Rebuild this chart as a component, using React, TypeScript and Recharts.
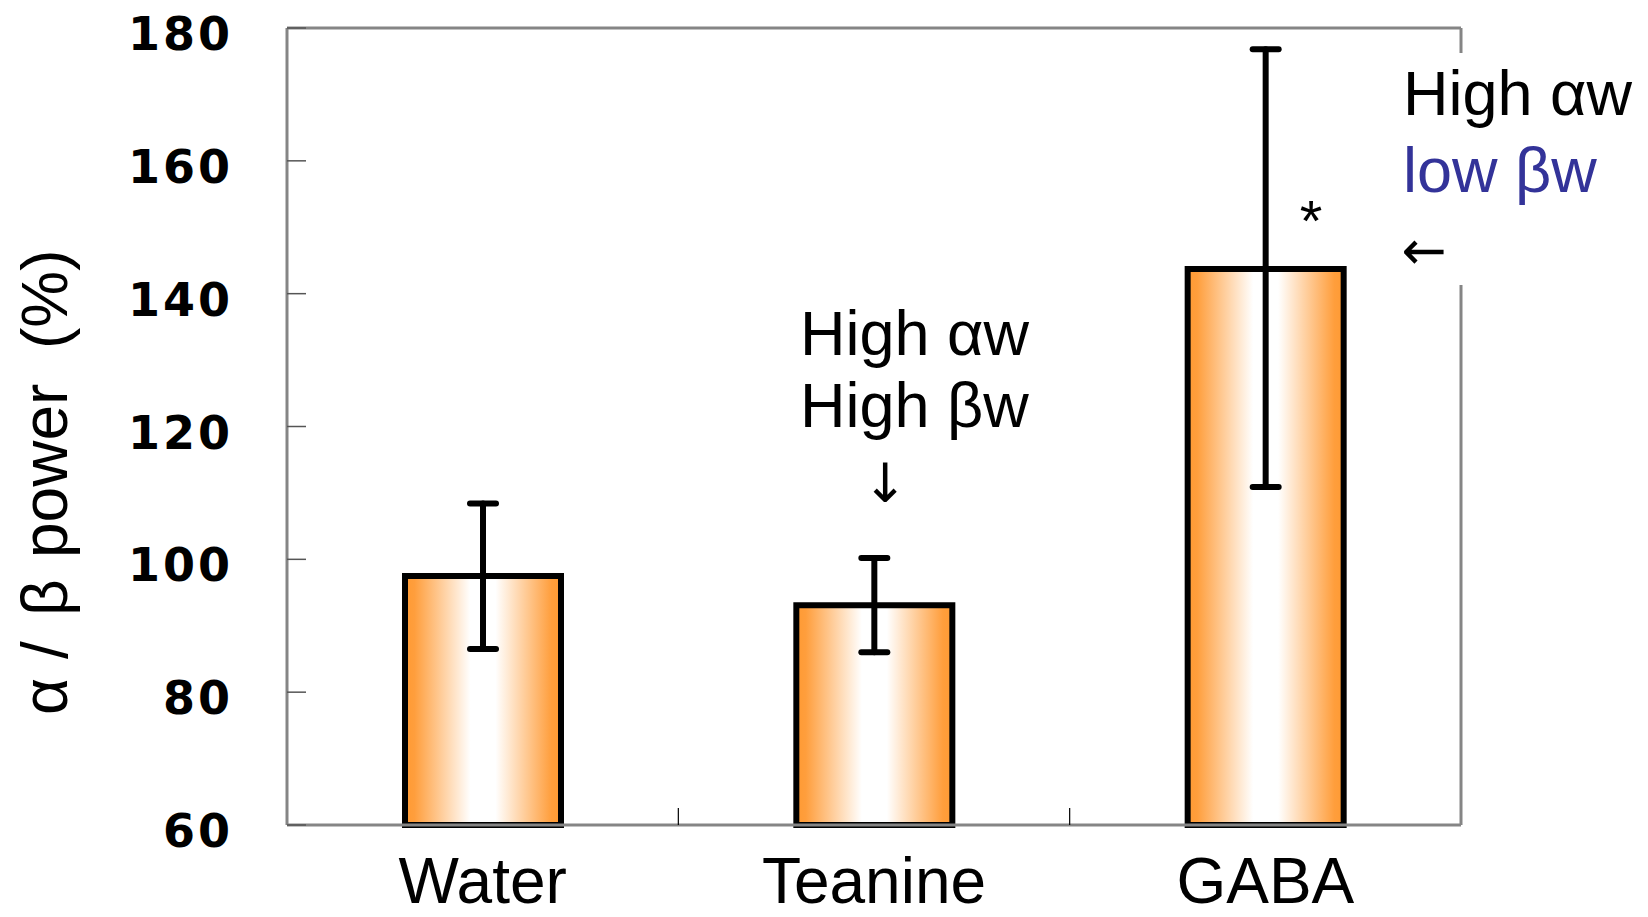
import React from 'react';
import { BarChart, Bar, XAxis, YAxis, ErrorBar } from 'recharts';

// values (% of baseline)
const categories = ['Water', 'Teanine', 'GABA'];
const means = [97.5, 93.1, 143.7];
const lowerBounds = [86.5, 86.0, 110.9];
const upperBounds = [108.4, 100.2, 176.8];
const yTicks = [60, 80, 100, 120, 140, 160, 180];

const data = categories.map((name, i) => ({
  name,
  value: means[i],
  err: [means[i] - lowerBounds[i], upperBounds[i] - means[i]],
}));

const AXIS_GREY = '#858585';

const YTick = (props: any) => {
  const { x, y, payload } = props;
  return (
    <g>
      <line x1={x} x2={x + 19} y1={y} y2={y} stroke="#555" strokeWidth={1.5} />
      <text
        x={x - 54}
        y={y + 22}
        textAnchor="end"
        fontFamily="DejaVu Sans"
        fontWeight="bold"
        fontSize={46}
        letterSpacing={3}
        fill="#000"
      >
        {payload.value}
      </text>
    </g>
  );
};

const XTick = (props: any) => {
  const { x, y, payload, index, visibleTicksCount, width } = props;
  const half = payload.offset || width / visibleTicksCount / 2;
  return (
    <g>
      {index < visibleTicksCount - 1 && (
        <line x1={x + half} x2={x + half} y1={y} y2={y - 17} stroke="#000" strokeWidth={1.2} />
      )}
      <text x={x} y={y + 78} textAnchor="middle" fontFamily="Liberation Sans" fontSize={64} fill="#000">
        {payload.value}
      </text>
    </g>
  );
};

export default function App() {
  return (
    <div style={{ position: 'absolute', left: 0, top: 0, width: 1648, height: 917, background: '#fff' }}>
      <BarChart width={1648} height={917} data={data} margin={{ top: 27, right: 186, bottom: 0, left: 0 }}>
        <defs>
          <linearGradient id="barFill" x1="0" y1="0" x2="1" y2="0">
            <stop offset="0" stopColor="#FF9A33" />
            <stop offset="0.06" stopColor="#FF9E3C" />
            <stop offset="0.42" stopColor="#FFFFFF" />
            <stop offset="0.58" stopColor="#FFFFFF" />
            <stop offset="0.94" stopColor="#FF9E3C" />
            <stop offset="1" stopColor="#FF9A33" />
          </linearGradient>
        </defs>
        <XAxis
          dataKey="name"
          height={92}
          tickSize={0}
          tickMargin={0}
          tickLine={false}
          tick={<XTick />}
          axisLine={{ stroke: AXIS_GREY, strokeWidth: 3 }}
        />
        <XAxis
          xAxisId="top"
          orientation="top"
          dataKey="name"
          height={1}
          tick={false}
          tickLine={false}
          axisLine={{ stroke: AXIS_GREY, strokeWidth: 3 }}
        />
        <YAxis
          domain={[60, 180]}
          ticks={yTicks}
          width={287}
          tickSize={0}
          tickMargin={0}
          tickLine={false}
          tick={<YTick />}
          axisLine={{ stroke: AXIS_GREY, strokeWidth: 3 }}
        />
        <YAxis
          yAxisId="r"
          orientation="right"
          domain={[60, 180]}
          width={1}
          tick={false}
          tickLine={false}
          axisLine={{ stroke: AXIS_GREY, strokeWidth: 3 }}
        />
        <Bar
          dataKey="value"
          barSize={156}
          fill="url(#barFill)"
          stroke="#000"
          strokeWidth={6}
          isAnimationActive={false}
        >
          <ErrorBar
            dataKey="err"
            direction="y"
            width={13}
            stroke="#000"
            strokeWidth={6}
            strokeLinecap="round"
            isAnimationActive={false}
          />
        </Bar>
      </BarChart>

      {/* annotations drawn on top */}
      <svg
        width={1648}
        height={917}
        style={{ position: 'absolute', left: 0, top: 0, pointerEvents: 'none' }}
      >
        <text
          transform="translate(67,715) rotate(-90)"
          fontFamily="Liberation Sans"
          fontSize={64}
          fill="#000"
        >
          <tspan x={0}>α</tspan>
          <tspan x={56}>/</tspan>
          <tspan x={99}>β</tspan>
          <tspan x={157}>power</tspan>
          <tspan x={366}>(%)</tspan>
        </text>

        <text x={800} y={355} fontFamily="Liberation Sans" fontSize={63} fill="#000">High αw</text>
        <text x={800} y={427} fontFamily="Liberation Sans" fontSize={63} fill="#000">High βw</text>
        <text x={885} y={502} textAnchor="middle" fontFamily="DejaVu Sans" fontSize={54} fill="#000">↓</text>

        <rect x={1455} y={53} width={12} height={232} fill="#fff" />
        <text x={1403} y={115} fontFamily="Liberation Sans" fontSize={63} fill="#000">High αw</text>
        <text x={1403} y={192} fontFamily="Liberation Sans" fontSize={63} fill="#333399">low βw</text>
        <text x={1311} y={241} textAnchor="middle" fontFamily="Liberation Sans" fontSize={58} fill="#000">*</text>
        <text x={1424} y={269} textAnchor="middle" fontFamily="DejaVu Sans" fontSize={54} fill="#000">←</text>
      </svg>
    </div>
  );
}
